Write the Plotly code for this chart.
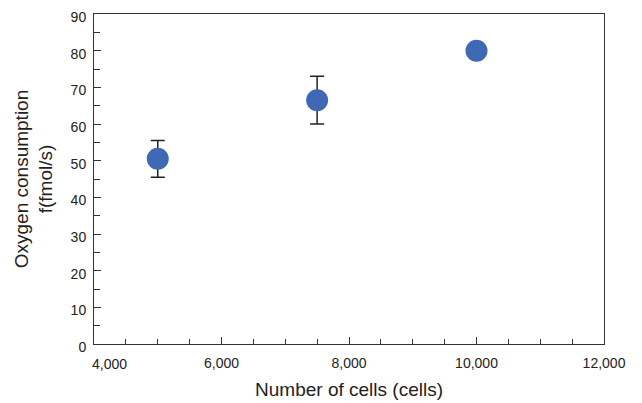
import plotly.graph_objects as go

cells = [5000, 7500, 10000]
oxygen = [50.5, 66.5, 80.0]
err = [5.0, 6.5, 0.0]

x_tickvals = [4000, 6000, 8000, 10000, 12000]
x_ticktext = ["", "6,000", "8,000", "10,000", "12,000"]
y_tickvals = [0, 10, 20, 30, 40, 50, 60, 70, 80, 90]

font = "Liberation Sans, Arial, sans-serif"

fig = go.Figure()
fig.add_trace(go.Scatter(
    x=cells, y=oxygen, mode="markers",
    marker=dict(size=22, color="#3F69B4"),
    error_y=dict(type="data", array=err, visible=True, color="#222222",
                 thickness=1.5, width=7),
    showlegend=False,
))

# page body has an 8px default margin, so the figure is sized/offset to compensate
fig.update_layout(
    width=634, height=395,
    margin=dict(l=86, r=38, t=6, b=59, autoexpand=False),
    plot_bgcolor="white", paper_bgcolor="white",
    font=dict(family=font, color="#222222"),
    xaxis=dict(
        range=[4000, 12000], tickvals=x_tickvals, ticktext=x_ticktext,
        ticks="inside", ticklen=7, tickcolor="#333", tickwidth=1,
        minor=dict(dtick=500, tick0=4000, ticks="inside", ticklen=5, tickcolor="#333"),
        showline=True, linecolor="#333", linewidth=1, mirror=True,
        showgrid=False, zeroline=False, automargin=False,
        tickfont=dict(size=14, family=font, color="#222"),
        ticklabelstandoff=6, ticklabeloverflow="allow",
        title=dict(text="Number of cells (cells)", font=dict(size=19, family=font, color="#222"), standoff=12),
    ),
    yaxis=dict(
        range=[0, 90], tickvals=y_tickvals,
        ticks="inside", ticklen=7, tickcolor="#333", tickwidth=1,
        minor=dict(dtick=5, tick0=0, ticks="inside", ticklen=6, tickcolor="#333"),
        showline=True, linecolor="#333", linewidth=1, mirror=True,
        showgrid=False, zeroline=False, automargin=False,
        tickfont=dict(size=14, family=font, color="#222"),
        ticklabelstandoff=4, ticklabelshift=3, ticklabeloverflow="allow",
        title=dict(text="Oxygen consumption<br>f(fmol/s)", font=dict(size=19, family=font, color="#222"), standoff=12),
    ),
    annotations=[dict(
        x=4000, y=0, xref="x", yref="paper", text="4,000", showarrow=False,
        xanchor="center", yanchor="top", xshift=15, yshift=-10,
        font=dict(size=14, family=font, color="#222"),
    )],
)

fig.write_html("out.html")
